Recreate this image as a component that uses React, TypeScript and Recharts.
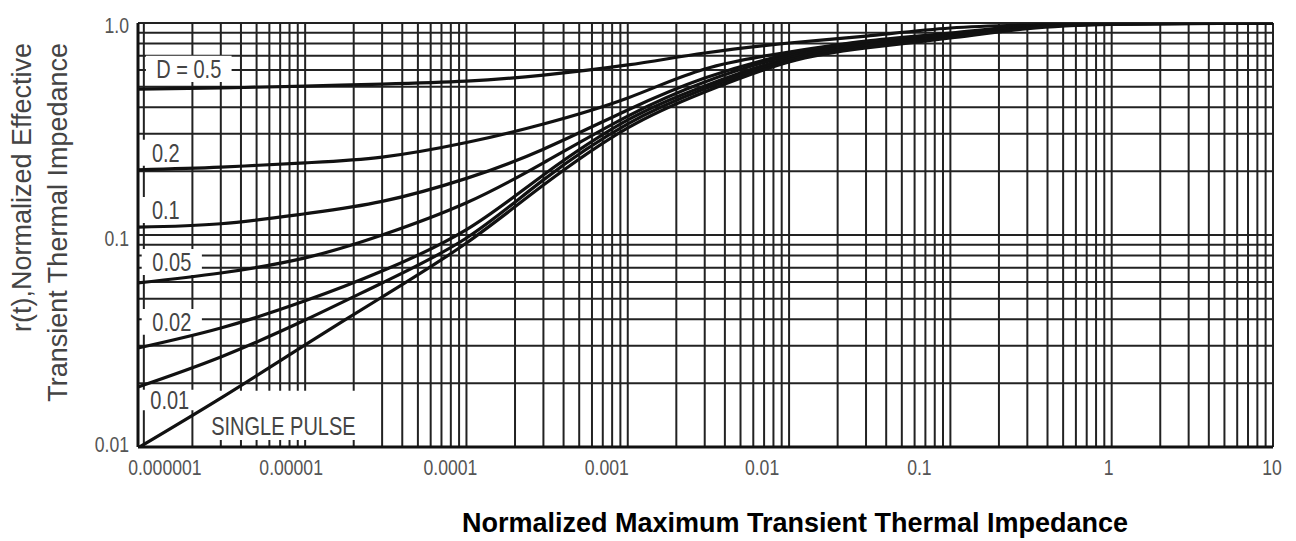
import { LineChart, Line, XAxis, YAxis, CartesianGrid, ReferenceArea, Label } from "recharts"

// pulse duration (normalized) sample points
const times = [9.2e-7, 3e-6, 1e-5, 3e-5, 1e-4, 3e-4, 1e-3, 3e-3, 1e-2, 3e-2, 0.1, 0.3, 1, 10]

// r(t) per duty cycle
const d05 = [0.488, 0.494, 0.504, 0.515, 0.532, 0.568, 0.634, 0.722, 0.805, 0.868, 0.947, 0.978, 0.995, 1.0]
const d02 = [0.203, 0.209, 0.219, 0.233, 0.273, 0.334, 0.443, 0.607, 0.73, 0.822, 0.897, 0.972, 0.995, 1.0]
const d01 = [0.109, 0.113, 0.126, 0.144, 0.185, 0.254, 0.389, 0.55, 0.714, 0.814, 0.887, 0.966, 0.993, 1.0]
const d005 = [0.0594, 0.0662, 0.078, 0.1, 0.142, 0.219, 0.364, 0.527, 0.699, 0.796, 0.878, 0.957, 0.992, 1.0]
const d002 = [0.0293, 0.0364, 0.0489, 0.0676, 0.106, 0.192, 0.349, 0.505, 0.684, 0.788, 0.868, 0.952, 0.99, 1.0]
const d001 = [0.0192, 0.0266, 0.0397, 0.0594, 0.0968, 0.182, 0.334, 0.489, 0.669, 0.779, 0.86, 0.947, 0.99, 1.0]
const single = [0.0099, 0.017, 0.0303, 0.051, 0.0917, 0.172, 0.32, 0.473, 0.655, 0.762, 0.85, 0.94, 0.985, 1.0]

const seriesKeys = ["d05", "d02", "d01", "d005", "d002", "d001", "single"]
const seriesValues = [d05, d02, d01, d005, d002, d001, single]
const curveLabels = ["D = 0.5", "0.2", "0.1", "0.05", "0.02", "0.01", "SINGLE PULSE"]

const xDecades = [1e-6, 1e-5, 1e-4, 1e-3, 1e-2, 1e-1, 1, 10]
const xDecadeLabels = ["0.000001", "0.00001", "0.0001", "0.001", "0.01", "0.1", "1", "10"]
const yDecades = [0.01, 0.1, 1]
const yDecadeLabels = ["0.01", "0.1", "1.0"]

// the scan prints the x labels a little off their grid lines
const xLabelShift = [21, -14, -16, -21, -27, -31, -3, -1]
const yLabelShift = [-3, 3, 2]

// white boxes behind the curve labels (data coords)
const labelBoxes = [
  { x1: 1.03e-6, x2: 3.5e-6, y1: 0.527, y2: 0.7, bottom: false },
  { x1: 9.7e-7, x2: 1.93e-6, y1: 0.212, y2: 0.281, bottom: false },
  { x1: 9.7e-7, x2: 1.93e-6, y1: 0.114, y2: 0.151, bottom: false },
  { x1: 9.7e-7, x2: 2.29e-6, y1: 0.0648, y2: 0.0859, bottom: false },
  { x1: 9.7e-7, x2: 2.29e-6, y1: 0.0338, y2: 0.0448, bottom: false },
  { x1: 9.7e-7, x2: 2.16e-6, y1: 0.0149, y2: 0.0186, bottom: false },
  { x1: 2.39e-6, x2: 2.25e-5, y1: 0.0108, y2: 0.0184, bottom: true },
]

const sans = "'Liberation Sans', Arial, sans-serif"

function logTicks(from: number, to: number) {
  const out: number[] = []
  for (let e = from; e < to; e++) {
    for (let k = 1; k < 10; k++) out.push(Number((k * Math.pow(10, e)).toPrecision(6)))
  }
  out.push(Math.pow(10, to))
  return out
}

const xTicks = logTicks(-6, 1)
const yTicks = logTicks(-2, 0)

const data = times.map((t, i) => {
  const row: Record<string, number> = { t }
  seriesKeys.forEach((k, j) => (row[k] = seriesValues[j][i]))
  return row
})

function decadeIndex(list: number[], v: number) {
  return list.findIndex((d) => Math.abs(d - v) < d * 1e-6)
}

// the scanned datasheet has narrow lettering, so squeeze the text horizontally
function Narrow({ x, y, anchor, dy, size, fill, children }: any) {
  return (
    <text
      transform={`translate(${x},${y}) scale(0.8,1)`}
      dy={dy}
      textAnchor={anchor}
      fill={fill}
      fontSize={size}
      fontFamily={sans}
    >
      {children}
    </text>
  )
}

function XTick(props: any) {
  const { x, y, payload } = props
  const i = decadeIndex(xDecades, payload.value)
  if (i < 0) return <g />
  return (
    <Narrow x={x + xLabelShift[i]} y={y} dy="0.71em" anchor="middle" size={22} fill="#555">
      {xDecadeLabels[i]}
    </Narrow>
  )
}

function YTick(props: any) {
  const { x, y, payload } = props
  const i = decadeIndex(yDecades, payload.value)
  if (i < 0) return <g />
  return (
    <Narrow x={x} y={y + yLabelShift[i]} dy="0.355em" anchor="end" size={22} fill="#555">
      {yDecadeLabels[i]}
    </Narrow>
  )
}

function curveLabel(text: string, bottom: boolean) {
  return (props: any) => {
    const vb = props.viewBox
    const cx = vb.x + vb.width / 2
    const cy = bottom ? vb.y + vb.height - 14 : vb.y + vb.height / 2
    return (
      <Narrow x={cx} y={cy} dy="0.355em" anchor="middle" size={25} fill="#444">
        {text}
      </Narrow>
    )
  }
}

function YTitle() {
  return (
    <g fill="#444" fontSize={27} fontFamily={sans}>
      <text transform="translate(23,35) rotate(-90)" textAnchor="end">
        r(t),Normalized Effective
      </text>
      <text transform="translate(59,35) rotate(-90)" textAnchor="end">
        Transient Thermal Impedance
      </text>
    </g>
  )
}

function XTitle() {
  return (
    <text x={787} y={524} textAnchor="middle" fill="#000" fontSize={27} fontWeight="bold" fontFamily={sans}>
      Normalized Maximum Transient Thermal Impedance
    </text>
  )
}

export default function App() {
  return (
    <div style={{ width: 1288, height: 533 }}>
      <LineChart width={1288} height={533} data={data} margin={{ top: 15, right: 23, left: 90, bottom: 64 }}>
        <CartesianGrid stroke="#222" strokeWidth={2} />
        <XAxis
          dataKey="t"
          type="number"
          scale="log"
          domain={[9.2e-7, 10]}
          allowDataOverflow
          ticks={xTicks}
          interval={0}
          height={30}
          tickLine={false}
          tickSize={0}
          tickMargin={12}
          axisLine={{ stroke: "#111", strokeWidth: 3 }}
          tick={XTick}
        >
          <Label content={XTitle} />
        </XAxis>
        <YAxis
          type="number"
          scale="log"
          domain={[0.01, 1]}
          allowDataOverflow
          ticks={yTicks}
          interval={0}
          width={40}
          tickLine={false}
          tickSize={0}
          tickMargin={9}
          axisLine={{ stroke: "#111", strokeWidth: 3 }}
          tick={YTick}
        >
          <Label content={YTitle} />
        </YAxis>
        {labelBoxes.map((b, i) => (
          <ReferenceArea
            key={curveLabels[i]}
            x1={b.x1}
            x2={b.x2}
            y1={b.y1}
            y2={b.y2}
            fill="#fff"
            fillOpacity={1}
            stroke="none"
            label={<Label content={curveLabel(curveLabels[i], b.bottom)} />}
          />
        ))}
        {seriesKeys.map((k) => (
          <Line
            key={k}
            dataKey={k}
            type="natural"
            stroke="#111"
            strokeWidth={3.2}
            dot={false}
            activeDot={false}
            isAnimationActive={false}
          />
        ))}
      </LineChart>
    </div>
  )
}
